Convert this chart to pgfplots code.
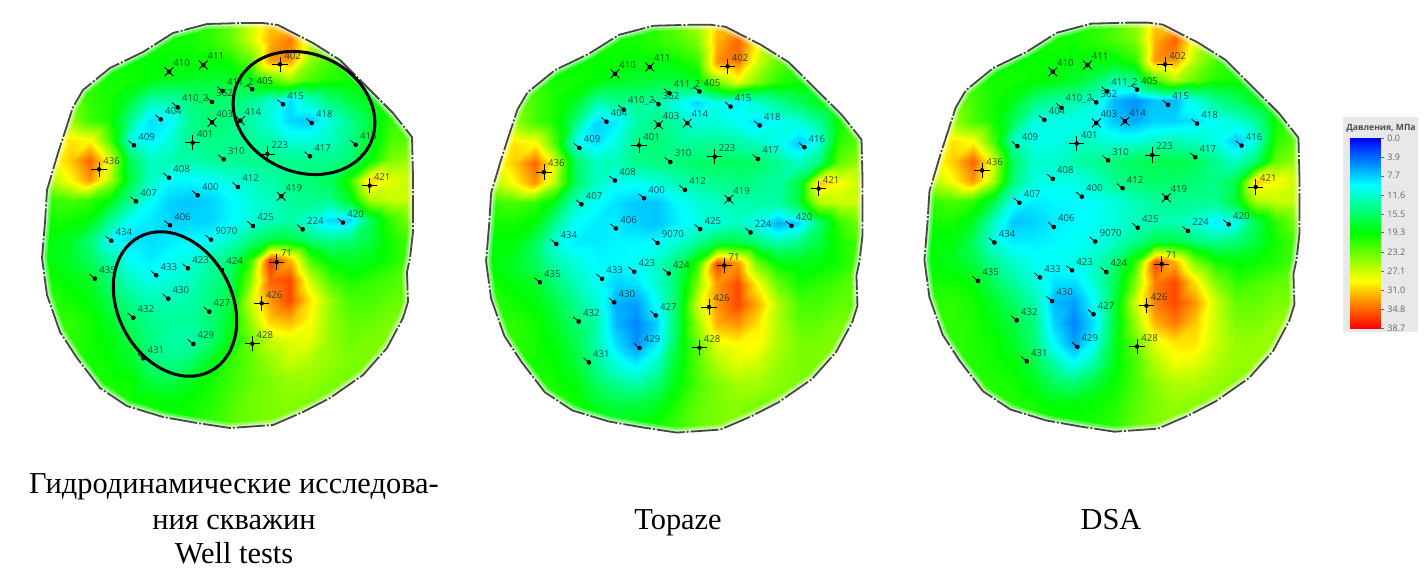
\documentclass[border=0pt]{standalone}
\usepackage{pgfplots}
\usepackage{pgfplotstable}
\usepackage{fontspec}
\pgfplotsset{compat=1.18}
\setmainfont{Liberation Serif}
\newfontfamily\osans{Open Sans}
\pgfdeclareplotmark{welld}{\pgfsetlinewidth{.35pt}\pgfpathmoveto{\pgfpoint{-2.8pt}{2.3pt}}\pgfpathlineto{\pgfpointorigin}\pgfusepathqstroke\pgfpathcircle{\pgfpointorigin}{1.15pt}\pgfusepathqfill}
\pgfdeclareplotmark{wellx}{\pgfsetlinewidth{.4pt}\pgfpathmoveto{\pgfpoint{-2.2pt}{2.2pt}}\pgfpathlineto{\pgfpoint{2.2pt}{-2.2pt}}\pgfpathmoveto{\pgfpoint{-2.2pt}{-2.2pt}}\pgfpathlineto{\pgfpoint{2.2pt}{2.2pt}}\pgfusepathqstroke\pgfpathcircle{\pgfpointorigin}{1.15pt}\pgfusepathqfill}
\pgfdeclareplotmark{wellp}{\pgfsetlinewidth{.3pt}\pgfpathmoveto{\pgfpoint{-3.8pt}{0pt}}\pgfpathlineto{\pgfpoint{3.8pt}{0pt}}\pgfpathmoveto{\pgfpoint{0pt}{-3.8pt}}\pgfpathlineto{\pgfpoint{0pt}{3.8pt}}\pgfusepathqstroke\pgfpathcircle{\pgfpointorigin}{1.1pt}\pgfusepathqfill}
\pgfplotstableread{
x y
207 24
243 23
263 23
278 25
313 43
340 60
367 87
393 113
412 137
413 177
413 232
410 258
407 272
408 302
403 318
387 348
363 375
330 398
303 412
273 425
230 428
197 423
163 417
127 406
100 388
77 358
60 332
47 295
42 258
45 222
47 190
58 153
73 107
83 90
110 68
143 52
173 33
207 24
207 0
500 0
500 500
0 500
0 0
207 0
}\outl
\pgfplotstableread{
x y label
222.7 91 411\_2
252.3 89.3 405
177.7 107.3 410\_2
212 102 362
283 104.3 415
160.7 119.3 404
311.7 123 418
134 145.3 409
223.7 159.3 310
310 156.3 417
355.7 144.7 416
169 177.7 408
238 187 412
197.7 195.3 400
136 201.3 407
170 225.3 406
253 226 425
302.7 229.3 224
343 222.7 420
111.3 240.7 434
211 239.7 9070
95 278.7 435
156.3 275.3 433
188 268.3 423
222 270 424
168.3 298.7 430
209.3 311.7 427
133.3 317.7 432
193.3 344 429
143.3 358.3 431
}\wellsD
\pgfplotstableread{
x y label
169 71.7 410
203.3 65 411
212 122.3 403
240.3 120.7 414
281.3 196.3 419
}\wellsX
\pgfplotstableread{
x y label
280 64.3 402
192.7 142.7 401
267.3 154 223
99 169.3 436
369.7 185.7 421
276.7 262 71
261.7 303.3 426
252.3 343.7 428
}\wellsP
\pgfplotsset{
  heat/.style={colormap={rb}{rgb255(0)=(0,0,255) rgb255(1)=(0,255,255) rgb255(2)=(0,255,0) rgb255(3)=(255,255,0) rgb255(4)=(255,0,0)},point meta min=0,point meta max=38.7},
  map/.style={heat,scale only axis,axis lines=none,xmin=25,xmax=435,ymin=10,ymax=445,y dir=reverse,clip=true,anchor=north west},
  lab/.style={only marks,black,mark options={black,fill=black},nodes near coords,point meta=explicit symbolic,
    nodes near coords style={anchor=west,inner sep=0pt,xshift=2pt,yshift=4.3pt,font=\osans\fontsize{4.8}{5}\selectfont,text=black!70!teal,text opacity=.8}},
  field/.style={surf,shader=interp,mesh/cols=21,point meta=\thisrow{v}},
}
\tikzset{captext/.style={anchor=base,font=\fontsize{15.2}{17}\selectfont}}
\newcommand\dress{%
  \addplot[fill=white,draw=none,forget plot,even odd rule] table[x=x,y=y]{\outl};
  \addplot[white,line width=5pt,opacity=.3,skip coords between index={38}{44}] table[x=x,y=y]{\outl};
  \addplot[white,line width=2.5pt,opacity=.5,skip coords between index={38}{44}] table[x=x,y=y]{\outl};
  \addplot[black!72,line width=.9pt,dash pattern=on 14pt off 1pt on 1pt off 1pt,line join=round,skip coords between index={38}{44}] table[x=x,y=y]{\outl};
  \addplot[lab,mark=welld] table[x=x,y=y,meta=label]{\wellsD};
  \addplot[lab,mark=wellx] table[x=x,y=y,meta=label]{\wellsX};
  \addplot[lab,mark=wellp] table[x=x,y=y,meta=label]{\wellsP};
}
\begin{document}
\begin{tikzpicture}
\useasboundingbox (0,0) rectangle (714pt,-285.5pt);
\begin{axis}[map,at={(12.5pt,-5pt)},width=205pt,height=217.5pt]
\addplot[field] table[row sep=\\,x=x,y=y]{x y v\\
30 20 20\\50 20 20\\70 20 20\\90 20 20\\110 20 20\\130 20 20\\150 20 20\\170 20 20\\190 20 20\\210 20 21\\230 20 23\\250 20 27\\270 20 31\\290 20 31\\310 20 26\\330 20 22\\350 20 22\\370 20 22\\390 20 22\\410 20 22\\430 20 22\\
30 40 20\\50 40 20\\70 40 20\\90 40 20\\110 40 20\\130 40 20\\150 40 20\\170 40 20\\190 40 20\\210 40 21\\230 40 23\\250 40 27\\270 40 32\\290 40 34\\310 40 27\\330 40 23\\350 40 22\\370 40 22\\390 40 22\\410 40 22\\430 40 22\\
30 60 21\\50 60 21\\70 60 20\\90 60 20\\110 60 20\\130 60 19.5\\150 60 19.5\\170 60 19.5\\190 60 19.5\\210 60 19.5\\230 60 20\\250 60 23\\270 60 33\\290 60 33\\310 60 25\\330 60 22\\350 60 21\\370 60 21\\390 60 21\\410 60 21\\430 60 21\\
30 80 23\\50 80 23\\70 80 21\\90 80 21\\110 80 20\\130 80 20\\150 80 19\\170 80 18\\190 80 18\\210 80 17.5\\230 80 17.5\\250 80 18\\270 80 22\\290 80 25\\310 80 22\\330 80 20.5\\350 80 20\\370 80 20\\390 80 20\\410 80 20\\430 80 20\\
30 100 26\\50 100 26\\70 100 23\\90 100 21\\110 100 20\\130 100 17\\150 100 13\\170 100 13\\190 100 15\\210 100 15.5\\230 100 15\\250 100 14\\270 100 11.5\\290 100 8.5\\310 100 12\\330 100 15\\350 100 17\\370 100 19\\390 100 21\\410 100 21\\430 100 21\\
30 120 28\\50 120 27\\70 120 25\\90 120 21.5\\110 120 20\\130 120 14\\150 120 8.5\\170 120 9.5\\190 120 14\\210 120 15\\230 120 14.5\\250 120 13\\270 120 11\\290 120 8\\310 120 7.5\\330 120 11\\350 120 14\\370 120 17\\390 120 21\\410 120 22\\430 120 22\\
30 140 28\\50 140 28\\70 140 30\\90 140 29\\110 140 22\\130 140 11\\150 140 9\\170 140 11\\190 140 14\\210 140 14.5\\230 140 14\\250 140 14\\270 140 13\\290 140 11\\310 140 11\\330 140 12\\350 140 14\\370 140 18\\390 140 22\\410 140 23\\430 140 23\\
30 160 28\\50 160 28\\70 160 31\\90 160 35\\110 160 28\\130 160 16\\150 160 12\\170 160 12.5\\190 160 13\\210 160 13.5\\230 160 14\\250 160 14\\270 160 14.5\\290 160 14\\310 160 14\\330 160 14\\350 160 15\\370 160 19\\390 160 24\\410 160 25\\430 160 25\\
30 180 25\\50 180 26\\70 180 29\\90 180 33\\110 180 26\\130 180 17\\150 180 12\\170 180 9.5\\190 180 9.5\\210 180 10\\230 180 11\\250 180 12\\270 180 13\\290 180 14.5\\310 180 15\\330 180 16\\350 180 21\\370 180 31\\390 180 28\\410 180 27\\430 180 27\\
30 200 20\\50 200 21\\70 200 22\\90 200 21\\110 200 19\\130 200 14\\150 200 10\\170 200 8\\190 200 7.5\\210 200 8\\230 200 9.5\\250 200 11\\270 200 12\\290 200 13.5\\310 200 14\\330 200 14\\350 200 18\\370 200 26\\390 200 27\\410 200 27\\430 200 27\\
30 220 20\\50 220 20\\70 220 20\\90 220 19\\110 220 14\\130 220 10\\150 220 9\\170 220 8\\190 220 8\\210 220 8\\230 220 9.5\\250 220 11\\270 220 12\\290 220 13\\310 220 11\\330 220 8\\350 220 8\\370 220 16\\390 220 21\\410 220 24\\430 220 24\\
30 240 19\\50 240 19\\70 240 18\\90 240 15\\110 240 10\\130 240 8.5\\150 240 8.5\\170 240 9\\190 240 9.5\\210 240 10\\230 240 12\\250 240 14.5\\270 240 17\\290 240 17\\310 240 15\\330 240 14\\350 240 15\\370 240 17\\390 240 20\\410 240 22\\430 240 22\\
30 260 19\\50 260 19\\70 260 18\\90 260 16\\110 260 13\\130 260 10\\150 260 9\\170 260 10\\190 260 11\\210 260 13\\230 260 15\\250 260 21\\270 260 37\\290 260 32\\310 260 22\\330 260 18.5\\350 260 18\\370 260 18.5\\390 260 20\\410 260 22\\430 260 22\\
30 280 20\\50 280 20\\70 280 19\\90 280 18\\110 280 15\\130 280 12\\150 280 10.5\\170 280 11\\190 280 12\\210 280 14\\230 280 16\\250 280 24\\270 280 35\\290 280 36\\310 280 27\\330 280 22\\350 280 20\\370 280 21\\390 280 22\\410 280 23\\430 280 23\\
30 300 20\\50 300 21\\70 300 20\\90 300 19\\110 300 16.5\\130 300 14\\150 300 12.5\\170 300 12.5\\190 300 13\\210 300 14.5\\230 300 17\\250 300 27\\270 300 33\\290 300 36\\310 300 30\\330 300 25\\350 300 22\\370 300 22\\390 300 23\\410 300 23\\430 300 23\\
30 320 21\\50 320 21\\70 320 21\\90 320 20\\110 320 18\\130 320 15.5\\150 320 14\\170 320 13.5\\190 320 13.5\\210 320 15\\230 320 18\\250 320 25\\270 320 31\\290 320 32\\310 320 29\\330 320 25\\350 320 23\\370 320 23\\390 320 24\\410 320 24\\430 320 24\\
30 340 21\\50 340 21\\70 340 21\\90 340 20\\110 340 19\\130 340 17\\150 340 14.5\\170 340 13\\190 340 13\\210 340 15\\230 340 19\\250 340 23\\270 340 27\\290 340 28\\310 340 28\\330 340 25\\350 340 23.5\\370 340 24\\390 340 24\\410 340 24\\430 340 24\\
30 360 21\\50 360 21\\70 360 21\\90 360 20\\110 360 19.5\\130 360 18\\150 360 15\\170 360 14\\190 360 15\\210 360 18\\230 360 21\\250 360 23\\270 360 25\\290 360 27\\310 360 26\\330 360 25\\350 360 24\\370 360 24\\390 360 24\\410 360 24\\430 360 24\\
30 380 21\\50 380 21\\70 380 21\\90 380 20.5\\110 380 20\\130 380 19.5\\150 380 17\\170 380 16.5\\190 380 18\\210 380 20\\230 380 21.5\\250 380 23\\270 380 24\\290 380 25\\310 380 25\\330 380 24\\350 380 24\\370 380 24\\390 380 24\\410 380 24\\430 380 24\\
30 400 21\\50 400 21\\70 400 21\\90 400 21\\110 400 21\\130 400 20\\150 400 19.5\\170 400 19\\190 400 19.5\\210 400 20.5\\230 400 22\\250 400 23.5\\270 400 24\\290 400 24.5\\310 400 24\\330 400 24\\350 400 23.5\\370 400 23\\390 400 23\\410 400 23\\430 400 23\\
30 420 21\\50 420 21\\70 420 21\\90 420 21\\110 420 21\\130 420 21\\150 420 20.5\\170 420 20\\190 420 20\\210 420 21\\230 420 22.5\\250 420 23.5\\270 420 24\\290 420 24\\310 420 24\\330 420 23.5\\350 420 23\\370 420 23\\390 420 23\\410 420 23\\430 420 23\\
30 440 21\\50 440 21\\70 440 21\\90 440 21\\110 440 21\\130 440 21\\150 440 20.5\\170 440 20\\190 440 20\\210 440 21\\230 440 22.5\\250 440 23.5\\270 440 24\\290 440 24\\310 440 24\\330 440 23.5\\350 440 23\\370 440 23\\390 440 23\\410 440 23\\430 440 23\\
};
\dress
\draw[black,line width=1.5pt,rotate around={-24:(axis cs:304,113)}] (axis cs:304,113) ellipse (36.5pt and 29.5pt);
\draw[black,line width=1.5pt,rotate around={-62:(axis cs:175,304)}] (axis cs:175,304) ellipse (38pt and 28.5pt);
\end{axis}
\begin{axis}[map,at={(234.4pt,-5.83pt)},width=208.03pt,height=219.02pt]
\addplot[field] table[row sep=\\,x=x,y=y]{x y v\\
30 20 20\\50 20 20\\70 20 20\\90 20 20\\110 20 20\\130 20 20\\150 20 20\\170 20 20\\190 20 20\\210 20 21\\230 20 23\\250 20 26\\270 20 31\\290 20 32\\310 20 27\\330 20 22\\350 20 22\\370 20 22\\390 20 22\\410 20 22\\430 20 22\\
30 40 20\\50 40 20\\70 40 20\\90 40 20\\110 40 20\\130 40 20\\150 40 20\\170 40 20\\190 40 20\\210 40 21\\230 40 22\\250 40 24\\270 40 32\\290 40 35\\310 40 29\\330 40 23\\350 40 22\\370 40 22\\390 40 22\\410 40 22\\430 40 22\\
30 60 21\\50 60 21\\70 60 20\\90 60 20\\110 60 20\\130 60 19.5\\150 60 19.5\\170 60 19.5\\190 60 19\\210 60 19\\230 60 19.5\\250 60 21\\270 60 33\\290 60 34\\310 60 27\\330 60 23\\350 60 21\\370 60 21\\390 60 21\\410 60 21\\430 60 21\\
30 80 23\\50 80 23\\70 80 21\\90 80 21\\110 80 20\\130 80 20\\150 80 19\\170 80 18\\190 80 17.5\\210 80 17\\230 80 17\\250 80 17.5\\270 80 24\\290 80 28\\310 80 24\\330 80 21\\350 80 20\\370 80 20\\390 80 20\\410 80 20\\430 80 20\\
30 100 26\\50 100 26\\70 100 23\\90 100 22\\110 100 20\\130 100 18\\150 100 13\\170 100 14\\190 100 14\\210 100 13\\230 100 10.5\\250 100 8\\270 100 10.5\\290 100 9\\310 100 11.5\\330 100 14\\350 100 16\\370 100 18.5\\390 100 21\\410 100 21\\430 100 21\\
30 120 28\\50 120 27\\70 120 25\\90 120 22\\110 120 20\\130 120 15\\150 120 8\\170 120 9\\190 120 13\\210 120 14.5\\230 120 13\\250 120 11\\270 120 11\\290 120 10\\310 120 8.5\\330 120 10\\350 120 11\\370 120 13.5\\390 120 20\\410 120 22\\430 120 22\\
30 140 28\\50 140 28\\70 140 30\\90 140 29\\110 140 22\\130 140 10.5\\150 140 8.5\\170 140 11\\190 140 14\\210 140 15\\230 140 14\\250 140 13.5\\270 140 14\\290 140 13\\310 140 12\\330 140 10.5\\350 140 7.5\\370 140 11\\390 140 21\\410 140 23\\430 140 23\\
30 160 28\\50 160 28\\70 160 31\\90 160 35\\110 160 28\\130 160 16\\150 160 12\\170 160 12.5\\190 160 14\\210 160 14.5\\230 160 15\\250 160 15.5\\270 160 16\\290 160 16\\310 160 15.5\\330 160 14\\350 160 12\\370 160 15\\390 160 23\\410 160 25\\430 160 25\\
30 180 25\\50 180 26\\70 180 29\\90 180 33\\110 180 26\\130 180 16\\150 180 12\\170 180 10\\190 180 10\\210 180 11\\230 180 12.5\\250 180 13.5\\270 180 14\\290 180 14.5\\310 180 14\\330 180 13.5\\350 180 17\\370 180 31\\390 180 29\\410 180 27\\430 180 27\\
30 200 20\\50 200 21\\70 200 22\\90 200 21\\110 200 18\\130 200 12\\150 200 10\\170 200 8.5\\190 200 7.5\\210 200 7.5\\230 200 9.5\\250 200 11\\270 200 12\\290 200 12.5\\310 200 13\\330 200 13\\350 200 17\\370 200 26\\390 200 27\\410 200 27\\430 200 27\\
30 220 20\\50 220 20\\70 220 20\\90 220 19\\110 220 14\\130 220 10\\150 220 9\\170 220 9\\190 220 8\\210 220 7.5\\230 220 9\\250 220 10.5\\270 220 11\\290 220 12\\310 220 10\\330 220 6.5\\350 220 8\\370 220 15\\390 220 21\\410 220 24\\430 220 24\\
30 240 19\\50 240 19\\70 240 19\\90 240 16\\110 240 11\\130 240 9\\150 240 9\\170 240 9.5\\190 240 9.5\\210 240 10\\230 240 11.5\\250 240 14\\270 240 17\\290 240 17\\310 240 15\\330 240 13\\350 240 14.5\\370 240 17\\390 240 20\\410 240 22\\430 240 22\\
30 260 19\\50 260 19\\70 260 18\\90 260 16\\110 260 13\\130 260 11\\150 260 9.5\\170 260 9.5\\190 260 10\\210 260 12\\230 260 15\\250 260 21\\270 260 36\\290 260 33\\310 260 23\\330 260 19\\350 260 18.5\\370 260 19\\390 260 20\\410 260 22\\430 260 22\\
30 280 20\\50 280 20\\70 280 19\\90 280 18\\110 280 15\\130 280 12.5\\150 280 10\\170 280 8\\190 280 8.5\\210 280 11.5\\230 280 16\\250 280 24\\270 280 33\\290 280 36\\310 280 29\\330 280 23\\350 280 20\\370 280 21\\390 280 22\\410 280 23\\430 280 23\\
30 300 20\\50 300 21\\70 300 20\\90 300 19\\110 300 17\\130 300 14\\150 300 11.5\\170 300 6.5\\190 300 6\\210 300 10\\230 300 16\\250 300 27\\270 300 33\\290 300 36\\310 300 32\\330 300 26\\350 300 22\\370 300 22\\390 300 23\\410 300 23\\430 300 23\\
30 320 21\\50 320 21\\70 320 21\\90 320 20\\110 320 18\\130 320 15.5\\150 320 13\\170 320 7\\190 320 5\\210 320 8\\230 320 16\\250 320 25\\270 320 32\\290 320 33\\310 320 30\\330 320 26\\350 320 23\\370 320 23\\390 320 24\\410 320 24\\430 320 24\\
30 340 21\\50 340 21\\70 340 21\\90 340 20\\110 340 19\\130 340 16.5\\150 340 13\\170 340 8.5\\190 340 5.5\\210 340 9\\230 340 17\\250 340 23\\270 340 28\\290 340 29\\310 340 29\\330 340 26\\350 340 24\\370 340 24\\390 340 24\\410 340 24\\430 340 24\\
30 360 21\\50 360 21\\70 360 21\\90 360 20\\110 360 19.5\\130 360 17.5\\150 360 14\\170 360 11\\190 360 9\\210 360 12\\230 360 18\\250 360 22.5\\270 360 26\\290 360 28\\310 360 27\\330 360 25\\350 360 24\\370 360 24\\390 360 24\\410 360 24\\430 360 24\\
30 380 21\\50 380 21\\70 380 21\\90 380 20.5\\110 380 20\\130 380 19\\150 380 16\\170 380 14\\190 380 13\\210 380 15\\230 380 19\\250 380 22\\270 380 24\\290 380 25.5\\310 380 25.5\\330 380 24.5\\350 380 24\\370 380 24\\390 380 24\\410 380 24\\430 380 24\\
30 400 21\\50 400 21\\70 400 21\\90 400 21\\110 400 21\\130 400 20\\150 400 18\\170 400 17\\190 400 17\\210 400 18\\230 400 20.5\\250 400 23\\270 400 24\\290 400 24.5\\310 400 24\\330 400 24\\350 400 23.5\\370 400 23\\390 400 23\\410 400 23\\430 400 23\\
30 420 21\\50 420 21\\70 420 21\\90 420 21\\110 420 21\\130 420 21\\150 420 20\\170 420 19\\190 420 19\\210 420 20\\230 420 21.5\\250 420 23\\270 420 24\\290 420 24\\310 420 24\\330 420 23.5\\350 420 23\\370 420 23\\390 420 23\\410 420 23\\430 420 23\\
30 440 21\\50 440 21\\70 440 21\\90 440 21\\110 440 21\\130 440 21\\150 440 20\\170 440 19\\190 440 19\\210 440 20\\230 440 21.5\\250 440 23\\270 440 24\\290 440 24\\310 440 24\\330 440 23.5\\350 440 23\\370 440 23\\390 440 23\\410 440 23\\430 440 23\\
};
\dress
\end{axis}
\begin{axis}[map,at={(453.6pt,-4.75pt)},width=207.26pt,height=219.68pt]
\addplot[field] table[row sep=\\,x=x,y=y]{x y v\\
30 20 20\\50 20 20\\70 20 20\\90 20 20\\110 20 20\\130 20 20\\150 20 20\\170 20 20\\190 20 20\\210 20 21\\230 20 22\\250 20 25\\270 20 31\\290 20 31\\310 20 26\\330 20 22\\350 20 22\\370 20 22\\390 20 22\\410 20 22\\430 20 22\\
30 40 20\\50 40 20\\70 40 20\\90 40 20\\110 40 20\\130 40 20\\150 40 20\\170 40 20\\190 40 20\\210 40 21\\230 40 22\\250 40 24\\270 40 32\\290 40 35\\310 40 28\\330 40 23\\350 40 22\\370 40 22\\390 40 22\\410 40 22\\430 40 22\\
30 60 21\\50 60 21\\70 60 20\\90 60 20\\110 60 20\\130 60 19.5\\150 60 19.5\\170 60 19.5\\190 60 19\\210 60 19\\230 60 19\\250 60 21\\270 60 33\\290 60 33\\310 60 26\\330 60 22\\350 60 21\\370 60 21\\390 60 21\\410 60 21\\430 60 21\\
30 80 23\\50 80 23\\70 80 21\\90 80 21\\110 80 20\\130 80 20\\150 80 19.5\\170 80 19\\190 80 18\\210 80 16\\230 80 13\\250 80 14\\270 80 22\\290 80 26\\310 80 23\\330 80 20.5\\350 80 20\\370 80 20\\390 80 20\\410 80 20\\430 80 20\\
30 100 26\\50 100 26\\70 100 23\\90 100 22\\110 100 20\\130 100 18.5\\150 100 15\\170 100 13.5\\190 100 13\\210 100 11.5\\230 100 7\\250 100 5.5\\270 100 7.5\\290 100 7\\310 100 11\\330 100 14\\350 100 16\\370 100 18.5\\390 100 21\\410 100 21\\430 100 21\\
30 120 28\\50 120 27\\70 120 25\\90 120 22\\110 120 20\\130 120 16\\150 120 11\\170 120 10.5\\190 120 10.5\\210 120 10.5\\230 120 7.5\\250 120 6.5\\270 120 8\\290 120 8\\310 120 8.5\\330 120 10\\350 120 11\\370 120 13.5\\390 120 20\\410 120 22\\430 120 22\\
30 140 28\\50 140 28\\70 140 30\\90 140 29\\110 140 22\\130 140 12\\150 140 10.5\\170 140 10.5\\190 140 11.5\\210 140 12\\230 140 11\\250 140 11\\270 140 12\\290 140 12.5\\310 140 12\\330 140 10.5\\350 140 7.5\\370 140 11\\390 140 21\\410 140 23\\430 140 23\\
30 160 28\\50 160 28\\70 160 31\\90 160 35\\110 160 28\\130 160 15.5\\150 160 11.5\\170 160 11.5\\190 160 13\\210 160 14\\230 160 15\\250 160 16\\270 160 16.5\\290 160 16.5\\310 160 16\\330 160 14\\350 160 12\\370 160 15\\390 160 23\\410 160 25\\430 160 25\\
30 180 25\\50 180 26\\70 180 29\\90 180 33\\110 180 26\\130 180 15\\150 180 11\\170 180 10.5\\190 180 10.5\\210 180 12\\230 180 14\\250 180 15\\270 180 15.5\\290 180 15.5\\310 180 15\\330 180 14.5\\350 180 17\\370 180 31\\390 180 29\\410 180 27\\430 180 27\\
30 200 20\\50 200 21\\70 200 22\\90 200 21\\110 200 17\\130 200 10.5\\150 200 9\\170 200 9.5\\190 200 9.5\\210 200 10\\230 200 11\\250 200 12.5\\270 200 13.5\\290 200 14\\310 200 14\\330 200 14\\350 200 17.5\\370 200 26\\390 200 27\\410 200 27\\430 200 27\\
30 220 20\\50 220 20\\70 220 20\\90 220 18\\110 220 12\\130 220 7.5\\150 220 8\\170 220 9\\190 220 9.5\\210 220 10\\230 220 11\\250 220 12\\270 220 12.5\\290 220 12.5\\310 220 11\\330 220 9\\350 220 10\\370 220 16\\390 220 21\\410 220 24\\430 220 24\\
30 240 19\\50 240 19\\70 240 19\\90 240 16\\110 240 11\\130 240 9\\150 240 9\\170 240 9.5\\190 240 10\\210 240 10.5\\230 240 12\\250 240 14.5\\270 240 17\\290 240 17\\310 240 15\\330 240 14\\350 240 15\\370 240 17\\390 240 20\\410 240 22\\430 240 22\\
30 260 19\\50 260 19\\70 260 18.5\\90 260 17\\110 260 14\\130 260 11.5\\150 260 10\\170 260 10\\190 260 10.5\\210 260 12\\230 260 15\\250 260 21\\270 260 36\\290 260 32\\310 260 24\\330 260 20\\350 260 19\\370 260 19.5\\390 260 20.5\\410 260 22\\430 260 22\\
30 280 20\\50 280 20\\70 280 20\\90 280 19\\110 280 16\\130 280 13.5\\150 280 11\\170 280 8.5\\190 280 8.5\\210 280 11.5\\230 280 16\\250 280 24\\270 280 34\\290 280 36\\310 280 30\\330 280 24\\350 280 21\\370 280 22\\390 280 23\\410 280 23\\430 280 23\\
30 300 20\\50 300 21\\70 300 21\\90 300 20\\110 300 18\\130 300 15.5\\150 300 13\\170 300 7\\190 300 6\\210 300 10\\230 300 17\\250 300 27\\270 300 34\\290 300 36\\310 300 33\\330 300 27\\350 300 23\\370 300 23\\390 300 24\\410 300 24\\430 300 24\\
30 320 21\\50 320 21\\70 320 21\\90 320 20.5\\110 320 19\\130 320 17\\150 320 14.5\\170 320 8\\190 320 5\\210 320 8.5\\230 320 17\\250 320 25\\270 320 32\\290 320 34\\310 320 31\\330 320 27\\350 320 24\\370 320 24\\390 320 25\\410 320 25\\430 320 25\\
30 340 21\\50 340 21\\70 340 21\\90 340 20.5\\110 340 20\\130 340 18\\150 340 15\\170 340 9.5\\190 340 6\\210 340 10\\230 340 18\\250 340 23\\270 340 28\\290 340 30\\310 340 30\\330 340 27\\350 340 25\\370 340 25\\390 340 25\\410 340 25\\430 340 25\\
30 360 21\\50 360 21\\70 360 21\\90 360 20.5\\110 360 20\\130 360 19.5\\150 360 17\\170 360 13\\190 360 10\\210 360 13\\230 360 18.5\\250 360 22\\270 360 26\\290 360 28.5\\310 360 28\\330 360 26\\350 360 25\\370 360 25\\390 360 25\\410 360 25\\430 360 25\\
30 380 21\\50 380 21\\70 380 21\\90 380 21\\110 380 20.5\\130 380 20\\150 380 18.5\\170 380 16\\190 380 15\\210 380 17\\230 380 19.5\\250 380 22\\270 380 24.5\\290 380 26\\310 380 26\\330 380 25\\350 380 24.5\\370 380 24.5\\390 380 24.5\\410 380 24.5\\430 380 24.5\\
30 400 21\\50 400 21\\70 400 21\\90 400 21\\110 400 21\\130 400 20.5\\150 400 20\\170 400 19\\190 400 19\\210 400 19.5\\230 400 20.5\\250 400 22.5\\270 400 24\\290 400 25\\310 400 24.5\\330 400 24.5\\350 400 24\\370 400 24\\390 400 24\\410 400 24\\430 400 24\\
30 420 21\\50 420 21\\70 420 21\\90 420 21\\110 420 21\\130 420 21\\150 420 20.5\\170 420 20\\190 420 20\\210 420 20\\230 420 21\\250 420 23\\270 420 24\\290 420 24.5\\310 420 24.5\\330 420 24\\350 420 24\\370 420 24\\390 420 24\\410 420 24\\430 420 24\\
30 440 21\\50 440 21\\70 440 21\\90 440 21\\110 440 21\\130 440 21\\150 440 20.5\\170 440 20\\190 440 20\\210 440 20\\230 440 21\\250 440 23\\270 440 24\\290 440 24.5\\310 440 24.5\\330 440 24\\350 440 24\\370 440 24\\390 440 24\\410 440 24\\430 440 24\\
};
\dress
\end{axis}
\fill[black!9] (671.5pt,-58.5pt) rectangle (709pt,-166pt);
\node[font=\osans\bfseries\fontsize{4.3}{5}\selectfont,text=black!70] at (690.5pt,-64pt) {Давления, МПа};
\begin{axis}[heat,scale only axis,at={(675pt,-69pt)},anchor=north west,width=15pt,height=95pt,
  xmin=0,xmax=1,ymin=0,ymax=38.7,y dir=reverse,enlargelimits=false,xtick=\empty,
  ytick={0,3.9,7.7,11.6,15.5,19.3,23.2,27.1,31,34.8,38.7},
  yticklabels={0.0,3.9,7.7,11.6,15.5,19.3,23.2,27.1,31.0,34.8,38.7},
  ytick pos=right,yticklabel pos=right,tick align=outside,major tick length=2pt,
  y tick label style={font=\osans\fontsize{4.5}{5}\selectfont,text=black!60,inner sep=0pt,xshift=1.5pt},
  tick style={black!60,line width=.3pt},axis line style={draw=none}]
\addplot[surf,shader=interp,mesh/cols=2,point meta=\thisrow{v}] table[row sep=\\,x=x,y=y]{x y v\\
0 0 0\\1 0 0\\
0 9.675 9.675\\1 9.675 9.675\\
0 19.35 19.35\\1 19.35 19.35\\
0 29.025 29.025\\1 29.025 29.025\\
0 38.7 38.7\\1 38.7 38.7\\
};
\end{axis}
\node[captext] at (117pt,-246.5pt) {Гидродинамические исследова-};
\node[captext] at (117pt,-264.5pt) {ния скважин};
\node[captext] at (117pt,-281.5pt) {Well tests};
\node[captext] at (339pt,-264.5pt) {Topaze};
\node[captext] at (555.5pt,-264.5pt) {DSA};
\end{tikzpicture}
\end{document}
